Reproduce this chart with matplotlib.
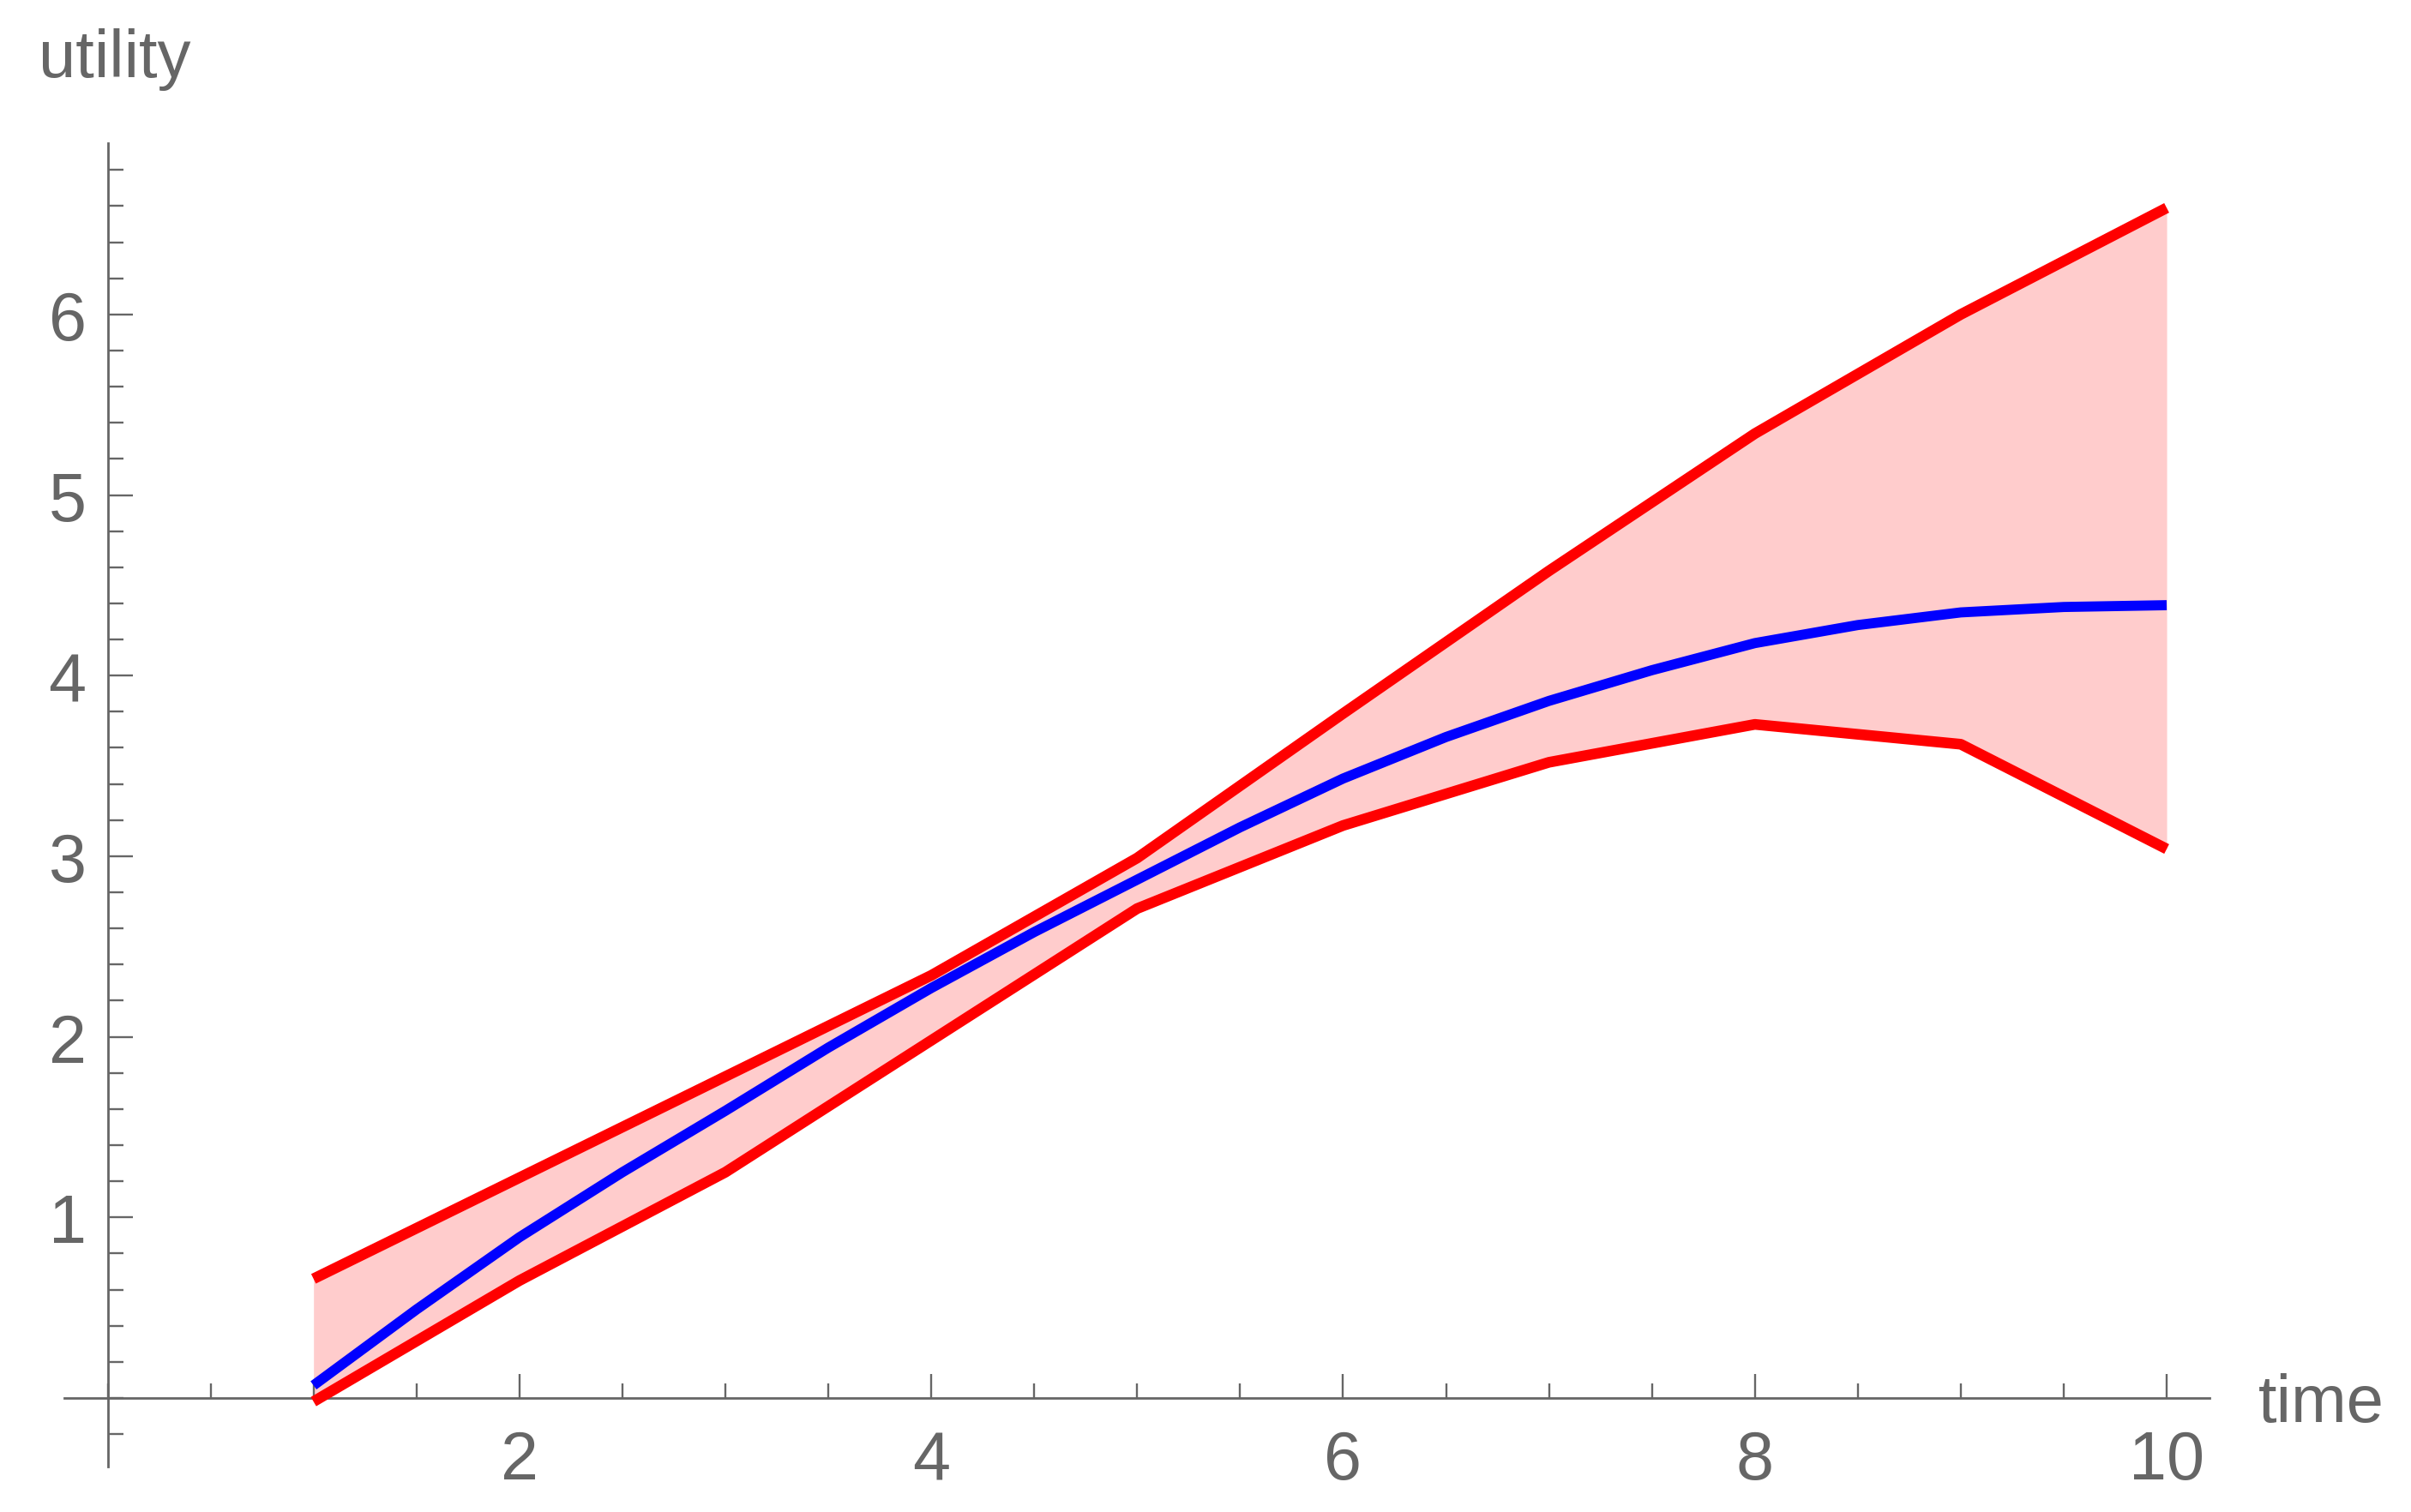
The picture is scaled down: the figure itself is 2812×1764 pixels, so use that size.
import matplotlib
matplotlib.use('Agg')
import matplotlib.pyplot as plt
from matplotlib.ticker import MultipleLocator, FixedLocator

plt.rcParams['font.family'] = ['Liberation Sans', 'DejaVu Sans']

t = [1, 2, 3, 4, 5, 6, 7, 8, 9, 10]
upper = [0.66, 1.22, 1.78, 2.34, 2.99, 3.79, 4.58, 5.34, 6.00, 6.59]
lower = [-0.02, 0.65, 1.25, 1.98, 2.71, 3.17, 3.52, 3.73, 3.62, 3.04]

t_mean = [1, 1.5, 2, 2.5, 3, 3.5, 4, 4.5, 5, 5.5,
          6, 6.5, 7, 7.5, 8, 8.5, 9, 9.5, 10]
mean = [0.07, 0.49, 0.89, 1.25, 1.59, 1.94, 2.27, 2.58, 2.87, 3.16,
        3.43, 3.66, 3.86, 4.03, 4.18, 4.28, 4.35, 4.38, 4.39]

xticks = [2, 4, 6, 8, 10]
yticks = [1, 2, 3, 4, 5, 6]

gray = '#666666'

fig = plt.figure(figsize=(28.12, 17.65), dpi=100)
ax = fig.add_axes([0.0267, 0.030, 0.8899, 0.875])

ax.fill_between(t, lower, upper, color='#ffcccc', lw=0, zorder=1)
ax.plot(t, upper, color='#ff0000', lw=9, solid_capstyle='butt',
        solid_joinstyle='round', zorder=3)
ax.plot(t, lower, color='#ff0000', lw=9, solid_capstyle='butt',
        solid_joinstyle='round', zorder=3)
ax.plot(t_mean, mean, color='#0000ff', lw=8.5, solid_capstyle='butt',
        solid_joinstyle='round', zorder=4)

ax.set_xlim(-0.21, 10.21)
ax.set_ylim(-0.38, 6.95)

for side in ('top', 'right'):
    ax.spines[side].set_visible(False)
for side in ('left', 'bottom'):
    ax.spines[side].set_position(('data', 0))
    ax.spines[side].set_color(gray)
    ax.spines[side].set_linewidth(2)
    ax.spines[side].set_zorder(2)

ax.xaxis.set_major_locator(FixedLocator(xticks))
ax.yaxis.set_major_locator(FixedLocator(yticks))
ax.xaxis.set_minor_locator(MultipleLocator(0.5))
ax.yaxis.set_minor_locator(MultipleLocator(0.2))

ax.tick_params(axis='both', which='both', direction='in', color=gray,
               labelcolor=gray, labelsize=57)
ax.tick_params(axis='x', which='major', length=20, width=1.7, pad=26)
ax.tick_params(axis='x', which='minor', length=12, width=1.7)
ax.tick_params(axis='y', which='major', length=21, width=1.7, pad=18)
ax.tick_params(axis='y', which='minor', length=13, width=1.7)

fig.text(0.016, 0.949, 'utility', fontsize=56, color=gray,
         ha='left', va='baseline')
fig.text(0.9367, 0.0601, 'time', fontsize=56, color=gray,
         ha='left', va='baseline')

fig.savefig('out.png', dpi=100)
